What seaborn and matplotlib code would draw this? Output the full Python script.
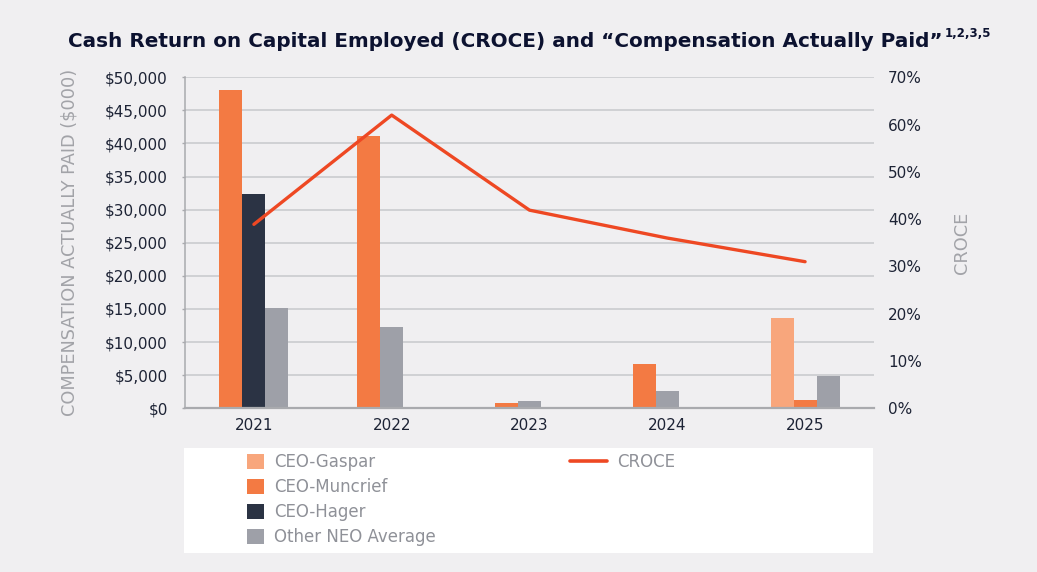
import numpy as np
import pandas as pd
import matplotlib
matplotlib.use("Agg")
import matplotlib.pyplot as plt
import seaborn as sns
from matplotlib.patches import Patch, Rectangle
from matplotlib.lines import Line2D
from matplotlib.ticker import FuncFormatter

years = ["2021", "2022", "2023", "2024", "2025"]
ceo_gaspar = [np.nan, np.nan, np.nan, np.nan, 13600]
ceo_muncrief = [48100, 41100, 760, 6700, 1200]
ceo_hager = [32300, np.nan, np.nan, np.nan, np.nan]
other_neo = [15100, 12300, 1150, 2570, 4900]
croce = [38.9, 62.0, 41.9, 36.0, 31.0]

series_names = ["CEO-Gaspar", "CEO-Muncrief", "CEO-Hager", "Other NEO Average"]
series_values = [ceo_gaspar, ceo_muncrief, ceo_hager, other_neo]
colors = {"CEO-Gaspar": "#f8a67c", "CEO-Muncrief": "#f37a43",
          "CEO-Hager": "#2b3344", "Other NEO Average": "#9ea0a8"}
line_color = "#ee4823"
bg = "#f0eff1"
navy = "#1d2335"
grey_txt = "#a2a3a8"

# bars are packed left into 3 slots per year (no gaps for missing series)
rows = []
for i, yr in enumerate(years):
    slot = 0
    for name, vals in zip(series_names, series_values):
        if not np.isnan(vals[i]):
            rows.append({"year": yr, "series": name, "value": vals[i], "slot": f"s{slot}"})
            slot += 1
df = pd.DataFrame(rows)

sns.set_theme(style="white")
plt.rcParams["font.family"] = ["DejaVu Sans"]

fig = plt.figure(figsize=(10.37, 5.72), dpi=100, facecolor=bg)
ax = fig.add_axes([0.1784, 0.2862, 0.6644, 0.5787])
ax.set_facecolor(bg)

sns.barplot(data=df, x="year", y="value", hue="slot", order=years,
            hue_order=["s0", "s1", "s2"], width=0.5, dodge=True,
            errorbar=None, saturation=1, legend=False, ax=ax)

for k, cont in enumerate(ax.containers):
    sub = df[df["slot"] == f"s{k}"].copy()
    sub["pos"] = sub["year"].map({y: i for i, y in enumerate(years)})
    sub = sub.sort_values("pos")
    for bar, name in zip(cont, sub["series"]):
        bar.set_facecolor(colors[name])
        bar.set_edgecolor("none")

ax.set_xlim(-0.5, len(years) - 0.5)
ax.set_ylim(0, 50000)
ax.set_yticks(np.arange(0, 50001, 5000))
ax.yaxis.set_major_formatter(FuncFormatter(lambda v, p: f"${v:,.0f}"))
ax.yaxis.grid(True, color="#c7c8cc", linewidth=1.1)
ax.set_axisbelow(True)
for s in ["top", "right"]:
    ax.spines[s].set_visible(False)
ax.spines["left"].set_color("#a9aaae")
ax.spines["left"].set_linewidth(1.1)
ax.spines["bottom"].set_color("#a9aaae")
ax.spines["bottom"].set_linewidth(1.6)
ax.tick_params(axis="y", left=True, length=2.5, width=1, color="#a9aaae",
               pad=10, labelsize=11, labelcolor=navy)
ax.tick_params(axis="x", bottom=False, length=0, pad=7, labelsize=11, labelcolor=navy)
ax.set_xlabel("")
ax.set_ylabel("COMPENSATION ACTUALLY PAID ($000)", color=grey_txt, fontsize=12.8)
ax.yaxis.set_label_coords(-0.155, 0.5)

ax2 = ax.twinx()
sns.lineplot(x=np.arange(len(years)), y=croce, color=line_color, linewidth=2.4,
             ax=ax2)
ax2.set_ylim(0, 70)
ax2.set_yticks(np.arange(0, 71, 10))
ax2.yaxis.set_major_formatter(FuncFormatter(lambda v, p: f"{v:.0f}%"))
ax2.tick_params(axis="y", right=False, length=0, pad=10, labelsize=11, labelcolor=navy)
for s in ["top", "right", "left", "bottom"]:
    ax2.spines[s].set_visible(False)
ax2.grid(False)
ax2.set_ylabel("CROCE", color=grey_txt, fontsize=12.8)
ax2.yaxis.set_label_coords(1.115, 0.5)

# title with superscript notes
title = fig.text(0.0656, 0.928, "Cash Return on Capital Employed (CROCE) and \u201cCompensation Actually Paid\u201d",
                 fontsize=14.4, fontweight="bold", color="#0c1230", ha="left", va="center")
fig.canvas.draw()
bb = title.get_window_extent().transformed(fig.transFigure.inverted())
fig.text(bb.x1 + 0.002, 0.942, "1,2,3,5", fontsize=8.5, fontweight="bold",
         color="#0c1230", ha="left", va="center")

# white legend box
fig.patches.append(Rectangle((184 / 1037, 1 - 553 / 572), (873 - 184) / 1037, (553 - 448) / 572,
                             transform=fig.transFigure, facecolor="white", edgecolor="none", zorder=0))
bar_handles = [Patch(facecolor=colors[n], edgecolor="none", label=n) for n in series_names]
leg1 = fig.legend(handles=bar_handles, loc="upper left", bbox_to_anchor=(247 / 1037, 1 - 453 / 572),
                  frameon=False, fontsize=12, labelcolor="#8f9198", handlelength=1.0,
                  handleheight=1.0, handletextpad=0.6, labelspacing=0.42, borderaxespad=0,
                  borderpad=0)
line_handle = [Line2D([], [], color=line_color, linewidth=2.6, label="CROCE")]
leg2 = fig.legend(handles=line_handle, loc="upper left", bbox_to_anchor=(570 / 1037, 1 - 453 / 572),
                  frameon=False, fontsize=12, labelcolor="#8f9198", handlelength=2.2,
                  handletextpad=0.6, borderaxespad=0, borderpad=0)

fig.savefig("out.png", dpi=100, facecolor=bg)
